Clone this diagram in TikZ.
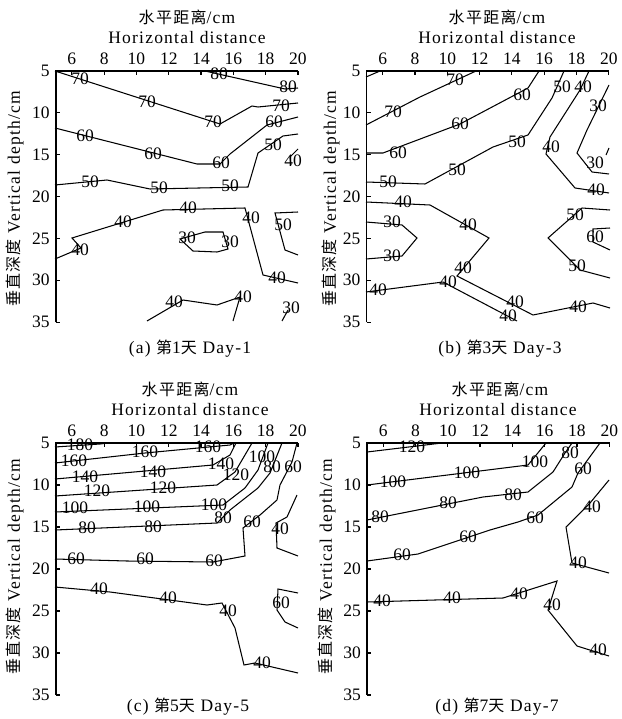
\documentclass[tikz,border=0pt]{standalone}
\usepackage{fontspec}
\setmainfont{Liberation Serif}
\newfontfamily\spfont[LetterSpace=7]{Liberation Serif}
\newfontfamily\cjkfont[LetterSpace=8]{Noto Sans CJK SC}
\newcount\labc
\newcommand\clab[2]{\global\advance\labc by 1\relax\edef\labname{cl\the\labc}\node[clabel] (\labname) at (#1) {#2};}
\tikzset{
  cline/.style={line width=1.05pt, line join=miter},
  clabel/.style={font=\fontsize{17.5}{17.5}\selectfont, inner sep=0pt},
  axisline/.style={line width=1.9pt},
  tickline/.style={line width=1.2pt},
  ticklab/.style={font=\fontsize{17.5}{17.5}\selectfont, inner sep=0pt},
  ttl/.style={font=\spfont\fontsize{17.5}{17.5}\selectfont, inner sep=0pt},
}
\newcommand\panel[4]{%
  \draw[axisline] (#2,{#3+30*#4}) -- (#2,#3) -- ({#2+242.5},#3);
  \foreach \d in {6,8,...,20} {
    \draw[tickline] ({#2+(\d-5)*16.15},#3) -- ++(0,4);
    \node[ticklab, anchor=south] (#1x\d) at ({#2+(\d-5)*16.15},{#3-6}) {\d};
  }
  \foreach \d in {5,10,...,35} {
    \draw[tickline] (#2,{#3+(\d-5)*#4}) -- ++(4,0);
    \node[ticklab, anchor=east] (#1y\d) at ({#2-6},{#3+(\d-5)*#4}) {\d};
  }
}
\begin{document}
\begin{tikzpicture}[x=1pt,y=-1pt]
\useasboundingbox (0,0) rectangle (621,719);
% ---------- titles ----------
\node[ttl] (ta1) at (187,17) {{\cjkfont\fontsize{16}{16}\selectfont 水平距离}/cm};
\node[ttl] (ta2) at (187,38) {Horizontal distance};
\node[ttl] (tb1) at (497,17) {{\cjkfont\fontsize{16}{16}\selectfont 水平距离}/cm};
\node[ttl] (tb2) at (497,38) {Horizontal distance};
\node[ttl] (tc1) at (190,389) {{\cjkfont\fontsize{16}{16}\selectfont 水平距离}/cm};
\node[ttl] (tc2) at (190,410) {Horizontal distance};
\node[ttl] (td1) at (500,389) {{\cjkfont\fontsize{16}{16}\selectfont 水平距离}/cm};
\node[ttl] (td2) at (498,410) {Horizontal distance};
\node[ttl, rotate=90] (ya) at (15,199) {{\cjkfont\fontsize{16}{16}\selectfont 垂直深度} Vertical depth/cm};
\node[ttl, rotate=90] (yb) at (331,199) {{\cjkfont\fontsize{16}{16}\selectfont 垂直深度} Vertical depth/cm};
\node[ttl, rotate=90] (yc) at (15,567) {{\cjkfont\fontsize{16}{16}\selectfont 垂直深度} Vertical depth/cm};
\node[ttl, rotate=90] (yd) at (327,567) {{\cjkfont\fontsize{16}{16}\selectfont 垂直深度} Vertical depth/cm};
\node[ttl] (ca) at (190,349) {(a) {\cjkfont\fontsize{16}{16}\selectfont 第}1{\cjkfont\fontsize{16}{16}\selectfont 天} Day-1};
\node[ttl] (cb) at (500,349) {(b) {\cjkfont\fontsize{16}{16}\selectfont 第}3{\cjkfont\fontsize{16}{16}\selectfont 天} Day-3};
\node[ttl] (cc) at (188,707) {(c) {\cjkfont\fontsize{16}{16}\selectfont 第}5{\cjkfont\fontsize{16}{16}\selectfont 天} Day-5};
\node[ttl] (cd) at (497,707) {(d) {\cjkfont\fontsize{16}{16}\selectfont 第}7{\cjkfont\fontsize{16}{16}\selectfont 天} Day-7};
% ---------- axes ----------
\panel{a}{55.7}{71}{8.37}
\panel{b}{366.5}{71}{8.37}
\panel{c}{55.7}{443}{8.4}
\panel{d}{367}{443}{8.4}
% ---------- panel a ----------
\draw[cline] (55,71) -- (220,124) -- (252,106) -- (258,107) -- (298,103);
\clab{80,79}{70}\clab{147,102}{70}\clab{213,122}{70}\clab{281,106}{70}
\draw[cline] (205,71) -- (285,89) -- (298,88);
\clab{219,74}{80}\clab{288,87}{80}
\draw[cline] (55,128) -- (197,164) -- (220,164) -- (230,154) -- (267,125) -- (298,117);
\clab{85,136}{60}\clab{153,154}{60}\clab{221,163}{60}\clab{274,122}{60}
\draw[cline] (55,185) -- (107,180) -- (150,189) -- (248,187) -- (258,153) -- (283,136) -- (298,134);
\clab{90,182}{50}\clab{159,188}{50}\clab{230,186}{50}\clab{273,145}{50}
\draw[cline] (298,149) -- (290,157) -- (291,165);
\clab{293,161}{40}
\draw[cline] (55,259) -- (81,248) -- (72,238) -- (163,210) -- (245,208) -- (263,275) -- (298,283);
\clab{80,250}{40}\clab{123,222}{40}\clab{188,208}{40}\clab{251,218}{40}\clab{277,278}{40}
\draw[cline] (298,212) -- (275,213) -- (285,250) -- (298,255);
\clab{283,225}{50}
\draw[cline] (180,239) -- (205,232) -- (223,232) -- (228,249) -- (217,252) -- (193,251) -- cycle;
\clab{187,238}{30}\clab{230,242}{30}
\draw[cline] (147,321) -- (183,300) -- (217,305) -- (240,297) -- (233,321);
\clab{174,302}{40}\clab{243,297}{40}
\draw[cline] (282,321) -- (288,310);
\clab{291,308}{30}
% ---------- panel b ----------
\draw[cline] (366,77) -- (380,71);
\draw[cline] (366,125) -- (420,97) -- (476,71);
\clab{393,112}{70}\clab{455,80}{70}
\draw[cline] (366,153) -- (383,153) -- (460,124) -- (528,88) -- (539,71);
\clab{398,153}{60}\clab{460,124}{60}\clab{522,95}{60}
\draw[cline] (366,182) -- (425,184) -- (493,147) -- (528,135) -- (552,98) -- (564,71);
\clab{388,182}{50}\clab{457,170}{50}\clab{517,142}{50}\clab{562,87}{50}
\draw[cline] (589,71) -- (580,90) -- (550,137) -- (546,154) -- (575,188) -- (609,193);
\clab{583,87}{40}\clab{551,147}{40}\clab{596,190}{40}
\draw[cline] (609,85) -- (587,130) -- (577,153) -- (592,172) -- (609,174);
\clab{598,106}{30}\clab{595,163}{30}
\draw[cline] (609,148) -- (606,155);
\draw[cline] (366,202) -- (430,205) -- (489,238) -- (457,276) -- (533,315) -- (593,303) -- (610,308);
\clab{403,202}{40}\clab{468,225}{40}\clab{463,268}{40}\clab{515,302}{40}\clab{578,307}{40}
\draw[cline] (366,292) -- (443,282) -- (517,321);
\clab{378,290}{40}\clab{448,282}{40}\clab{508,316}{40}
\draw[cline] (366,222) -- (402,225) -- (417,238) -- (402,256) -- (366,259);
\clab{392,222}{30}\clab{392,256}{30}
\draw[cline] (610,210) -- (582,208) -- (548,238) -- (580,270) -- (610,278);
\clab{575,215}{50}\clab{577,266}{50}
\draw[cline] (610,228) -- (593,229) -- (593,242) -- (610,250);
\clab{595,237}{60}
% ---------- panel c ----------
\draw[cline] (55,447) -- (100,444) -- (108,443);
\clab{80,445}{180}
\draw[cline] (55,463) -- (145,453) -- (230,445) -- (234,443);
\clab{74,461}{160}\clab{145,452}{160}\clab{208,447}{160}
\draw[cline] (55,479) -- (213,465) -- (230,455) -- (236,443);
\clab{85,477}{140}\clab{153,472}{140}\clab{221,464}{140}
\draw[cline] (55,496) -- (217,485) -- (235,472) -- (252,443);
\clab{97,491}{120}\clab{163,488}{120}\clab{236,475}{120}
\draw[cline] (55,512) -- (223,505) -- (245,488) -- (258,470) -- (268,443);
\clab{75,508}{100}\clab{147,507}{100}\clab{214,505}{100}\clab{262,457}{100}
\draw[cline] (55,530) -- (217,523) -- (230,510) -- (258,488) -- (270,473) -- (282,443);
\clab{87,528}{80}\clab{153,527}{80}\clab{223,518}{80}\clab{272,467}{80}
\draw[cline] (297,443) -- (292,462) -- (280,485) -- (277,500) -- (260,515) -- (243,528) -- (245,556) -- (213,562) -- (127,561) -- (55,559);
\clab{293,467}{60}\clab{252,522}{60}\clab{214,561}{60}\clab{145,559}{60}\clab{76,559}{60}
\draw[cline] (297,495) -- (287,517) -- (276,523) -- (277,548) -- (298,556);
\clab{280,529}{40}
\draw[cline] (298,593) -- (278,589) -- (277,610) -- (285,622) -- (298,628);
\clab{281,603}{60}
\draw[cline] (55,587) -- (110,592) -- (207,605) -- (222,603) -- (235,628) -- (244,665) -- (255,663) -- (298,673);
\clab{99,589}{40}\clab{168,598}{40}\clab{228,611}{40}\clab{262,663}{40}
% ---------- panel d ----------
\draw[cline] (367,452) -- (442,443);
\clab{412,447}{120}
\draw[cline] (367,485) -- (528,465) -- (546,443);
\clab{393,482}{100}\clab{467,473}{100}\clab{535,462}{100}
\draw[cline] (367,520) -- (483,497) -- (528,492) -- (553,472) -- (565,453) -- (572,443);
\clab{380,517}{80}\clab{448,503}{80}\clab{513,495}{80}\clab{570,453}{80}
\draw[cline] (367,561) -- (418,554) -- (490,530) -- (518,522) -- (538,515) -- (572,487) -- (578,473) -- (600,443);
\clab{402,555}{60}\clab{468,537}{60}\clab{535,518}{60}\clab{583,469}{60}
\draw[cline] (609,480) -- (590,503) -- (566,527) -- (572,563) -- (609,573);
\clab{592,507}{40}\clab{578,563}{40}
\draw[cline] (367,602) -- (503,598) -- (557,581) -- (548,610) -- (577,646) -- (609,656);
\clab{382,601}{40}\clab{452,598}{40}\clab{519,594}{40}\clab{552,605}{40}\clab{598,650}{40}
\end{tikzpicture}
\end{document}
